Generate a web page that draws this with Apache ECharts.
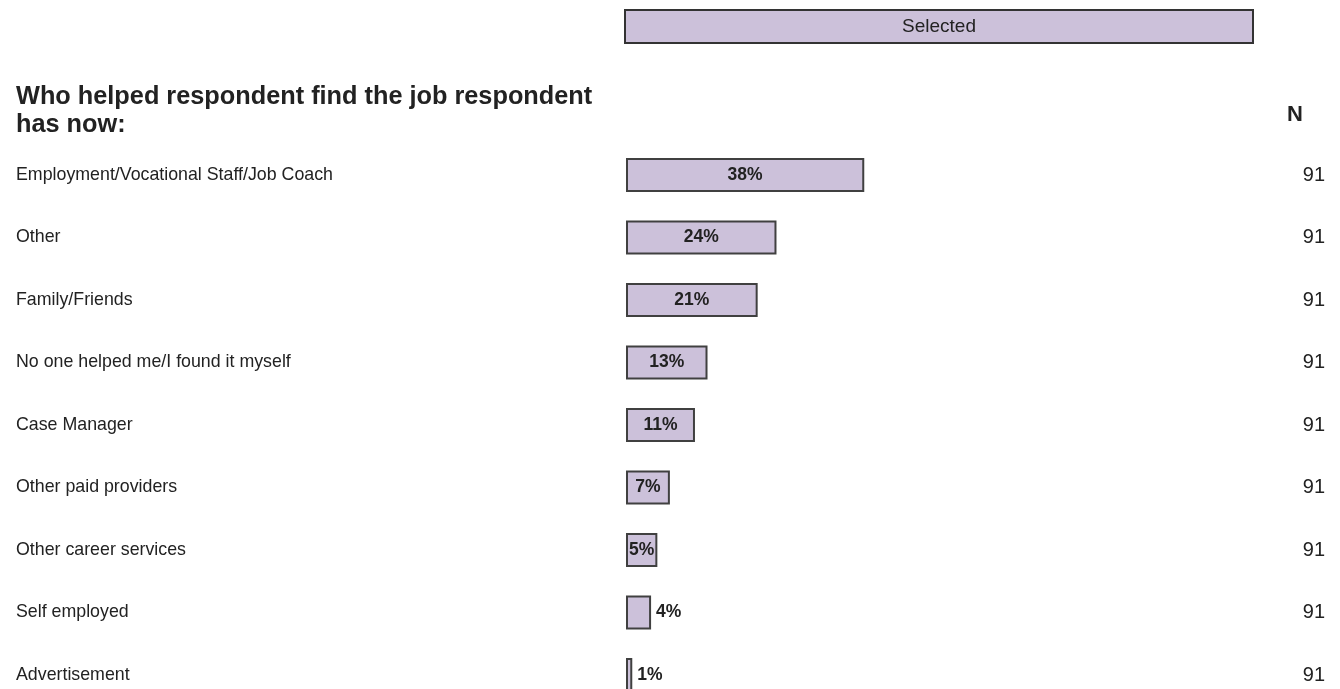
<!DOCTYPE html>
<html>
<head>
<meta charset="utf-8">
<script src="https://cdn.jsdelivr.net/npm/echarts@6/dist/echarts.min.js"></script>
<style>
    html, body { margin: 0; padding: 0; background: #fff; overflow: hidden; }
    /* 容器比窗口高，最后一根柱子在底部被裁掉 */
    #chart { width: 1340px; height: 720px; }
</style>
</head>
<body>
<div id="chart"></div>
<script>
    // 数据
    var categories = [
        'Employment/Vocational Staff/Job Coach',
        'Other',
        'Family/Friends',
        'No one helped me/I found it myself',
        'Case Manager',
        'Other paid providers',
        'Other career services',
        'Self employed',
        'Advertisement'
    ];
    var selectedPct = [38, 24, 21, 13, 11, 7, 5, 4, 1];
    var nValues = ['91', '91', '91', '91', '91', '91', '91', '91', '91'];

    var font = '"Liberation Sans", Arial, sans-serif';
    var textColor = '#222';

    var myChart = echarts.init(document.getElementById('chart'));
    myChart.setOption({
        animation: false,
        textStyle: { fontFamily: font },
        title: [{
            text: 'Who helped respondent find the job respondent\nhas now:',
            left: 16,
            top: 83,
            padding: 0,
            textStyle: { fontFamily: font, fontSize: 25.3, fontWeight: 'bold', lineHeight: 28, color: textColor }
        }, {
            text: 'N',
            left: 1287,
            top: 104,
            padding: 0,
            textStyle: { fontFamily: font, fontSize: 22, fontWeight: 'bold', color: textColor }
        }],
        // 图例 - 顶部长条
        legend: {
            left: 621,
            top: 9,
            padding: 0,
            icon: 'none',
            itemWidth: 0,
            itemGap: 0,
            selectedMode: false,
            data: ['Selected'],
            formatter: '{box|{name}}',
            textStyle: {
                fontFamily: font,
                rich: {
                    box: {
                        width: 626,
                        height: 31,
                        align: 'center',
                        verticalAlign: 'middle',
                        fontSize: 19,
                        color: textColor,
                        backgroundColor: '#CCC1DA',
                        borderColor: '#333',
                        borderWidth: 2
                    }
                }
            }
        },
        grid: {
            left: 626,
            right: 87,
            top: 143.75,
            height: 562.5,
            containLabel: false
        },
        xAxis: {
            type: 'value',
            min: 0,
            max: 100,
            show: false
        },
        yAxis: [{
            type: 'category',
            inverse: true,
            data: categories,
            axisLine: { show: false },
            axisTick: { show: false },
            axisLabel: {
                align: 'left',
                margin: 610,
                fontSize: 17.8,
                fontFamily: font,
                color: textColor
            }
        }, {
            type: 'category',
            inverse: true,
            position: 'right',
            data: nValues,
            axisLine: { show: false },
            axisTick: { show: false },
            axisLabel: {
                align: 'right',
                margin: 72,
                fontSize: 20,
                fontFamily: font,
                color: textColor
            }
        }],
        series: [{
            name: 'Selected',
            type: 'bar',
            yAxisIndex: 0,
            barWidth: 34,
            itemStyle: {
                color: '#CCC1DA',
                borderColor: '#404040',
                borderWidth: 2
            },
            label: {
                show: true,
                formatter: '{c}%',
                fontFamily: font,
                fontSize: 17.5,
                fontWeight: 'bold',
                color: textColor
            },
            // 条太窄时标签放在右侧
            data: selectedPct.map(function (v) {
                return {
                    value: v,
                    label: { position: v >= 5 ? 'inside' : 'right', distance: 5 }
                };
            })
        }]
    });
    window.addEventListener('resize', function () {
        myChart.resize();
    });
</script>
</body>
</html>
